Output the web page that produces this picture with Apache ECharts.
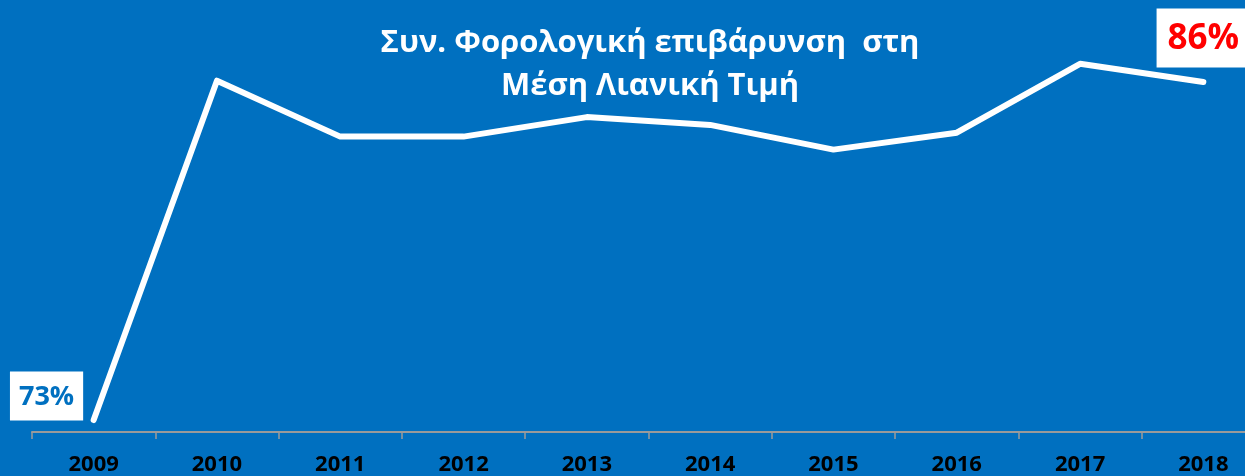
<!DOCTYPE html>
<html>
<head>
<meta charset="utf-8">
<script src="https://cdn.jsdelivr.net/npm/echarts@6/dist/echarts.min.js"></script>
<style>
	html, body { margin: 0; padding: 0; background: #0070c0; }
	#chart { width: 1245px; height: 476px; }
</style>
</head>
<body>
<div id="chart"></div>
<script>
const years = ['2009', '2010', '2011', '2012', '2013', '2014', '2015', '2016', '2017', '2018']
const burden = [73, 86.05, 83.9, 83.9, 84.65, 84.35, 83.4, 84.05, 86.7, 86]
const titleLines = ['Συν. Φορολογική επιβάρυνση  στη', 'Μέση Λιανική Τιμή']

let chart = echarts.init(document.getElementById('chart'))

let points = burden.map((v, i) => {
	if (i === 0) {
		return {
			value: v,
			label: {
				show: true,
				position: [-10, 1],
				align: 'right',
				verticalAlign: 'bottom',
				formatter: '73%',
				backgroundColor: '#fff',
				color: '#0070c0',
				fontSize: 27,
				fontWeight: 'bold',
				padding: [12, 9, 10, 9],
			},
		}
	}
	if (i === burden.length - 1) {
		return {
			value: v,
			label: {
				show: true,
				position: 'top',
				distance: 14,
				formatter: '86%',
				backgroundColor: '#fff',
				color: '#ff0000',
				fontSize: 35,
				fontWeight: 'bold',
				padding: [13, 11, 11, 11],
			},
		}
	}
	return v
})

let option = {
	backgroundColor: '#0070c0',
	textStyle: { fontFamily: 'Open Sans' },
	title: {
		text: titleLines.join('\n'),
		left: 645,
		textAlign: 'center',
		top: 17,
		textStyle: {
			color: '#fff',
			fontSize: 31,
			fontWeight: 'bold',
			lineHeight: 43,
			fontFamily: 'Open Sans',
		},
	},
	grid: {
		left: 32,
		width: 1233,
		top: 30,
		bottom: 44,
		outerBoundsMode: 'none',
	},
	xAxis: {
		type: 'category',
		data: years,
		boundaryGap: true,
		axisLine: { show: true, lineStyle: { color: '#9a9a9a', width: 2 } },
		axisTick: { show: true, length: 7, lineStyle: { color: '#9a9a9a', width: 1.5 } },
		axisLabel: {
			color: '#000',
			fontSize: 22,
			fontWeight: 'bold',
			margin: 22,
		},
	},
	yAxis: {
		type: 'value',
		min: 72.54,
		max: 88,
		show: false,
		splitLine: { show: false },
	},
	series: [
		{
			type: 'line',
			data: points,
			symbol: 'circle',
			symbolSize: 1,
			showSymbol: true,
			itemStyle: { color: '#fff' },
			labelLayout: { hideOverlap: false },
			lineStyle: { color: '#fff', width: 6, cap: 'round', join: 'round' },
			silent: true,
		},
	],
}
chart.setOption(option)
</script>
</body>
</html>
